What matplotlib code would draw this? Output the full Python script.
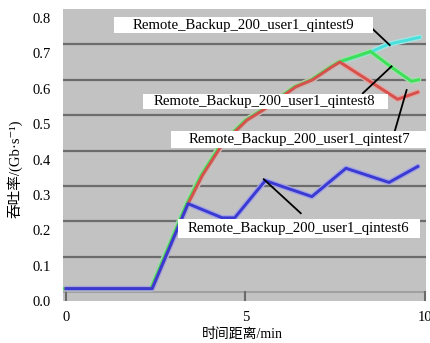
import numpy as np
import matplotlib.pyplot as plt
from matplotlib.patches import Rectangle
from matplotlib.transforms import ScaledTranslation

# throughput over time for the four backup jobs
t6 = [0, 2.4, 3.4, 4.35, 4.7, 5.55, 6.85, 7.8, 9.0, 9.8]
v6 = [0.01, 0.01, 0.25, 0.21, 0.21, 0.315, 0.27, 0.35, 0.31, 0.355]

t7 = [0, 2.4, 3.4, 3.8, 4.37, 5.04, 5.5, 5.96, 6.4, 6.87, 7.4, 7.63, 9.24, 9.8]
v7 = [0.01, 0.01, 0.25, 0.33, 0.42, 0.486, 0.515, 0.548, 0.58, 0.60, 0.636, 0.65, 0.545, 0.565]

t8 = [0, 2.4, 3.4, 3.8, 4.37, 5.04, 5.5, 5.96, 6.4, 6.87, 7.4, 7.63, 8.52, 9.1, 9.66, 9.86]
v8 = [0.01, 0.01, 0.25, 0.33, 0.42, 0.486, 0.515, 0.548, 0.58, 0.60, 0.636, 0.65, 0.68, 0.636, 0.596, 0.60]

t9 = [0, 2.4, 3.4, 3.8, 4.37, 5.04, 5.5, 5.96, 6.4, 6.87, 7.4, 7.63, 8.52, 8.97, 9.85]
v9 = [0.01, 0.01, 0.25, 0.33, 0.42, 0.486, 0.515, 0.548, 0.58, 0.60, 0.636, 0.65, 0.68, 0.70, 0.72]

names = ['Remote_Backup_200_user1_qintest6', 'Remote_Backup_200_user1_qintest7',
         'Remote_Backup_200_user1_qintest8', 'Remote_Backup_200_user1_qintest9']

yticks = [0.0, 0.1, 0.2, 0.3, 0.4, 0.5, 0.6, 0.7, 0.8]
xticks = [0, 5, 10]

serif = ['Liberation Serif', 'DejaVu Serif']
cjk = ['Liberation Serif', 'Noto Sans CJK SC', 'DejaVu Serif']

fig = plt.figure(figsize=(4.31, 3.43), dpi=100)
ax = fig.add_axes([63/431, 42/343, 363/431, 292/343])
ax.set_facecolor('#c2c2c2')
ax.set_xlim(-0.084, 10.03)
ax.set_ylim(-0.025, 0.8)

for y in yticks[1:-1]:
    ax.axhline(y, color='#6c6c6c', lw=1.6, zorder=1)
ax.axhline(0.0, color='#9a9a9a', lw=1.2, zorder=1)

# wide pale stroke under each line, then the line itself;
# green is nudged left a pixel so it shows beside the red where they coincide
nudge = ScaledTranslation(-0.013, 0, fig.dpi_scale_trans)
series = [(t9, v9, '#48e0dc', '#a8e4e2', 0),
          (t8, v8, '#3ee05a', '#a0e0a8', 1),
          (t7, v7, '#d8504c', '#e0a8a4', 0),
          (t6, v6, '#3a3ad2', '#a4a4e4', 0)]
for t, v, c, halo, off in series:
    tr = ax.transData + nudge if off else ax.transData
    ax.plot(t, v, color=halo, lw=4.0, solid_capstyle='round', zorder=2, transform=tr)
for t, v, c, halo, off in series:
    tr = ax.transData + nudge if off else ax.transData
    ax.plot(t, v, color=c, lw=2.1, solid_joinstyle='round', zorder=3, transform=tr)

for s in ax.spines.values():
    s.set_visible(False)

ax.set_yticks(yticks)
ax.set_yticklabels([f'{y:.1f}' for y in yticks], family=serif, fontsize=10.5)
ax.tick_params(axis='y', length=0, pad=9)
shift = ScaledTranslation(0, -0.09, fig.dpi_scale_trans)
for lab in ax.get_yticklabels():
    lab.set_transform(lab.get_transform() + shift)

ax.set_xticks(xticks)
ax.set_xticklabels([str(x) for x in xticks], family=serif, fontsize=10.5)
ax.tick_params(axis='x', direction='in', length=7, width=1.5, color='#6a6a6a', pad=7)

# label boxes: (box x0, x1, y0, y1, text x, text y, line start, line end)
boxes = [
    (3.11, 9.86, 0.153, 0.206, 6.48, 0.180, (6.54, 0.223), (5.51, 0.319)),
    (2.92, 10.16, 0.407, 0.455, 6.51, 0.431, (9.16, 0.455), (9.49, 0.571)),
    (2.14, 8.96, 0.517, 0.559, 5.54, 0.538, (8.27, 0.562), (9.07, 0.638)),
    (1.33, 8.55, 0.732, 0.777, 4.95, 0.754, (8.55, 0.743), (9.02, 0.698)),
]
for name, (x0, x1, y0, y1, tx, ty, p0, p1) in zip(names, boxes):
    ax.plot([p0[0], p1[0]], [p0[1], p1[1]], color='black', lw=1.3, zorder=4)
    ax.add_patch(Rectangle((x0, y0), x1 - x0, y1 - y0, fc='white', ec='none',
                           zorder=5, clip_on=False))
    ax.text(tx, ty, name, ha='center', va='center', family=serif,
            fontsize=10.6, zorder=6)

fig.text(15/431, 1 - 169/343, '吞吐率/(Gb·s⁻¹)', rotation=90, ha='center',
         va='center', family=cjk, fontsize=10.5)
fig.text(242/431, 1 - 334/343, '时间距离/min', ha='center', va='center',
         family=cjk, fontsize=10)

fig.savefig('out.png', dpi=100)
